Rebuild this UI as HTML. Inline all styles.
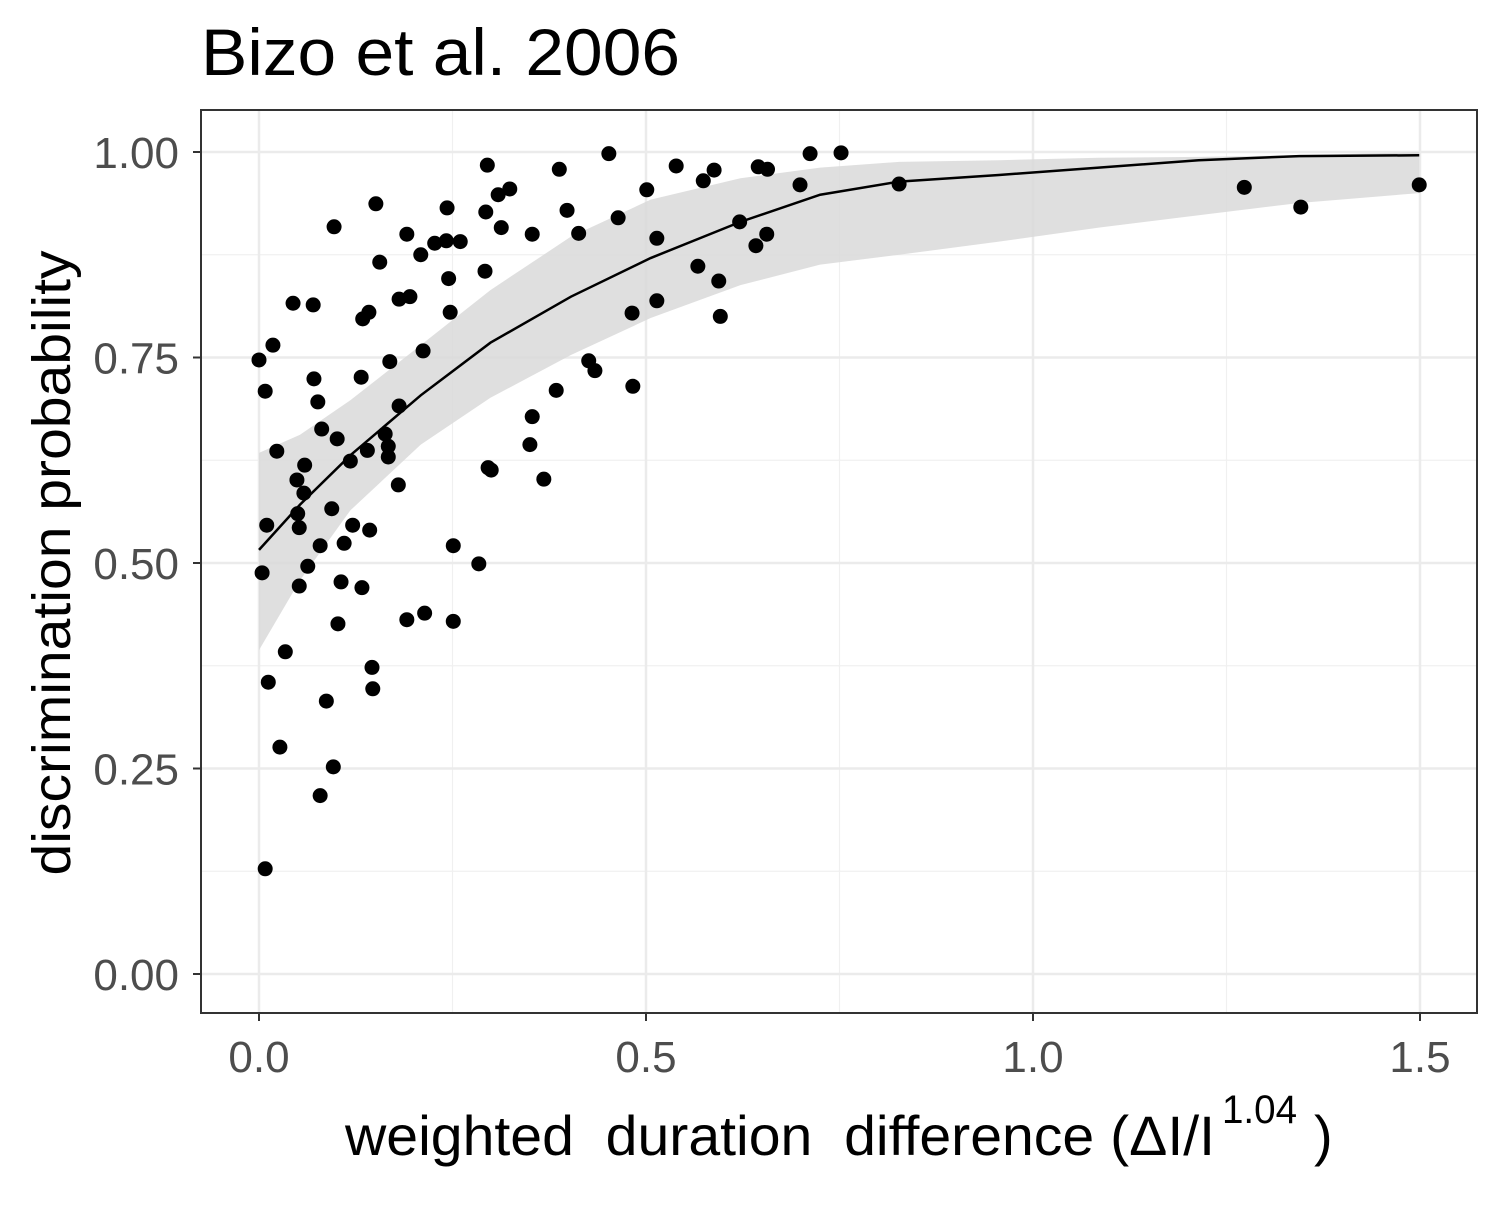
<!DOCTYPE html>
<html><head><meta charset="utf-8"><style>
body{margin:0;background:#fff;}
svg text{font-family:"Liberation Sans",sans-serif;}
</style></head><body>
<svg id="chart" width="1500" height="1200" xmlns="http://www.w3.org/2000/svg">
<rect width="1500" height="1200" fill="#fff"/>
<text x="201" y="75" font-size="66" textLength="479" lengthAdjust="spacingAndGlyphs" fill="#000">Bizo et al. 2006</text>
<g id="grid"></g>
<path id="band" fill="#d9d9d9" fill-opacity="0.85"/>
<path id="fit" fill="none" stroke="#000" stroke-width="2.5"/>
<g id="pts"></g>
<rect x="201" y="110" width="1276" height="903" fill="none" stroke="#333" stroke-width="2"/>
<g id="axes"></g>
<g>
<text x="345" y="1155" font-size="56" textLength="870" lengthAdjust="spacingAndGlyphs" fill="#000" xml:space="preserve">weighted  duration  difference (ΔI/I</text>
<text x="1222" y="1123" font-size="40" textLength="75" lengthAdjust="spacingAndGlyphs" fill="#000">1.04</text>
<text x="1314" y="1155" font-size="56" fill="#000">)</text>
</g>
<text transform="translate(70,563) rotate(-90)" text-anchor="middle" font-size="54" textLength="625" lengthAdjust="spacingAndGlyphs" fill="#000">discrimination probability</text>
</svg>
<script>
const xs=[0.000,0.008,0.018,0.004,0.008,0.012,0.010,0.023,0.034,0.027,0.044,0.049,0.050,0.052,0.052,0.058,0.059,0.063,0.070,0.071,0.076,0.079,0.079,0.081,0.087,0.094,0.096,0.097,0.101,0.102,0.106,0.110,0.118,0.121,0.132,0.133,0.134,0.140,0.142,0.143,0.146,0.147,0.151,0.156,0.163,0.167,0.167,0.169,0.180,0.181,0.181,0.191,0.191,0.195,0.209,0.212,0.214,0.227,0.242,0.243,0.245,0.247,0.251,0.251,0.260,0.284,0.292,0.293,0.295,0.296,0.300,0.309,0.313,0.324,0.350,0.353,0.353,0.368,0.384,0.388,0.398,0.413,0.426,0.434,0.452,0.464,0.482,0.483,0.501,0.514,0.514,0.539,0.567,0.574,0.588,0.594,0.596,0.621,0.642,0.645,0.656,0.657,0.699,0.712,0.752,0.827,1.273,1.346,1.499];
const ys=[0.747,0.709,0.765,0.488,0.128,0.355,0.546,0.636,0.392,0.276,0.816,0.601,0.560,0.543,0.472,0.585,0.619,0.496,0.814,0.724,0.696,0.521,0.217,0.663,0.332,0.566,0.252,0.909,0.651,0.426,0.477,0.524,0.624,0.546,0.726,0.470,0.797,0.637,0.805,0.540,0.373,0.347,0.937,0.866,0.657,0.642,0.629,0.745,0.595,0.691,0.821,0.900,0.431,0.824,0.875,0.758,0.439,0.889,0.892,0.932,0.846,0.805,0.521,0.429,0.891,0.499,0.855,0.927,0.984,0.616,0.613,0.948,0.908,0.955,0.644,0.678,0.900,0.602,0.710,0.979,0.929,0.901,0.746,0.734,0.998,0.920,0.804,0.715,0.954,0.895,0.819,0.983,0.861,0.965,0.978,0.843,0.800,0.915,0.886,0.982,0.900,0.979,0.960,0.998,0.999,0.961,0.957,0.933,0.960];
const fitX=[0,0.053,0.118,0.209,0.299,0.403,0.506,0.622,0.725,0.827,0.956,1.085,1.214,1.344,1.499];
const fitY=[0.516,0.571,0.631,0.704,0.768,0.824,0.871,0.915,0.948,0.964,0.972,0.981,0.990,0.995,0.996];
const upperY=[0.634,0.656,0.698,0.765,0.832,0.897,0.942,0.968,0.981,0.988,0.990,0.993,0.994,0.996,1.000];
const lowerY=[0.394,0.479,0.564,0.644,0.701,0.753,0.798,0.838,0.863,0.875,0.891,0.908,0.923,0.938,0.950];
const xTicks=[0,0.5,1.0,1.5], xTickLabels=["0.0","0.5","1.0","1.5"];
const yTicks=[0,0.25,0.5,0.75,1.0], yTickLabels=["0.00","0.25","0.50","0.75","1.00"];
const X=v=>259+v*774, Y=v=>974-v*822;
const NS="http://www.w3.org/2000/svg";
function mk(tag,attrs,parent){const e=document.createElementNS(NS,tag);for(const k in attrs)e.setAttribute(k,attrs[k]);parent.appendChild(e);return e;}
const grid=document.getElementById('grid'), axes=document.getElementById('axes');
[0.25,0.75,1.25].forEach(v=>{const l=mk('line',{x1:X(v),x2:X(v),y1:110,y2:1013,stroke:'#f0f0f0','stroke-width':1.2},grid);

});
[0.125,0.375,0.625,0.875].forEach(v=>{const l=mk('line',{x1:201,x2:1477,y1:Y(v),y2:Y(v),stroke:'#f0f0f0','stroke-width':1.2},grid);

});
xTicks.forEach((v,i)=>{const l=mk('line',{x1:X(v),x2:X(v),y1:110,y2:1013,stroke:'#ebebeb','stroke-width':2.5},grid);


const t=mk('line',{x1:X(v),x2:X(v),y1:1013,y2:1021,stroke:'#333','stroke-width':2},axes);


const tx=mk('text',{x:X(v),y:1072,'text-anchor':'middle','font-size':44,fill:'#4d4d4d'},axes);tx.textContent=xTickLabels[i];

});
yTicks.forEach((v,i)=>{const l=mk('line',{x1:201,x2:1477,y1:Y(v),y2:Y(v),stroke:'#ebebeb','stroke-width':2.5},grid);


const t=mk('line',{x1:193,x2:201,y1:Y(v),y2:Y(v),stroke:'#333','stroke-width':2},axes);


const tx=mk('text',{x:179,y:Y(v)+16,'text-anchor':'end','font-size':44,fill:'#4d4d4d'},axes);tx.textContent=yTickLabels[i];

});
let d='M'+fitX.map((x,i)=>X(x)+','+Y(upperY[i])).join('L');
for(let i=fitX.length-1;i>=0;i--)d+='L'+X(fitX[i])+','+Y(lowerY[i]);
document.getElementById('band').setAttribute('d',d+'Z');
document.getElementById('fit').setAttribute('d','M'+fitX.map((x,i)=>X(x)+','+Y(fitY[i])).join('L'));
const pts=document.getElementById('pts');
xs.forEach((x,i)=>{const c=mk('circle',{cx:X(x),cy:Y(ys[i]),r:7.5,fill:'#000'},pts);

});
</script>
</body></html>
